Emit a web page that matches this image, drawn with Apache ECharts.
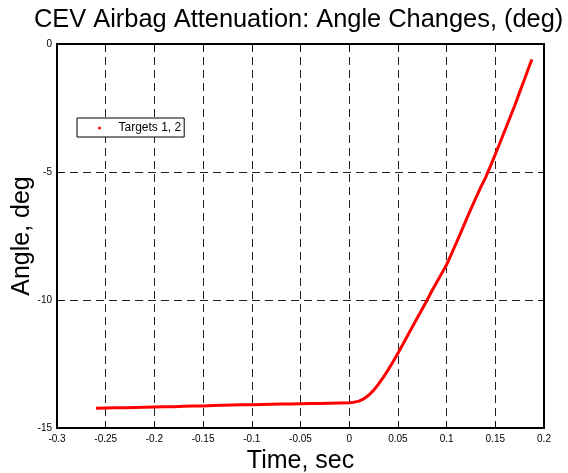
<!DOCTYPE html>
<html>
<head>
<meta charset="utf-8">
<script src="https://cdn.jsdelivr.net/npm/echarts@6/dist/echarts.min.js"></script>
<style>html,body{margin:0;padding:0;background:#fff;}#c{width:568px;height:473px;}</style>
</head>
<body>
<div id="c"></div>
<script>
const titleText = 'CEV Airbag Attenuation: Angle Changes, (deg)';
const xName = 'Time, sec';
const yName = 'Angle, deg';
const seriesName = 'Targets 1, 2';
const xTicks = [-0.3, -0.25, -0.2, -0.15, -0.1, -0.05, 0, 0.05, 0.1, 0.15, 0.2];
const yTicks = [-15, -10, -5, 0];
const timeVals = [
  -0.26, -0.25, -0.24, -0.23, -0.22, -0.21, -0.20, -0.19, -0.18, -0.17,
  -0.16, -0.15, -0.14, -0.13, -0.12, -0.11, -0.10, -0.09, -0.08, -0.07,
  -0.06, -0.05, -0.04, -0.03, -0.02, -0.01, 0,
  0.005, 0.01, 0.015, 0.02, 0.025, 0.03, 0.035, 0.04, 0.045, 0.05,
  0.055, 0.06, 0.065, 0.07, 0.075, 0.08, 0.085, 0.09, 0.095, 0.1,
  0.105, 0.11, 0.115, 0.12, 0.125, 0.13, 0.135, 0.14, 0.145, 0.15,
  0.155, 0.16, 0.165, 0.17, 0.175, 0.18, 0.185, 0.1876
];
const angleVals = [
  -14.23, -14.22, -14.21, -14.21, -14.20, -14.19, -14.18, -14.17, -14.17, -14.15,
  -14.14, -14.14, -14.12, -14.11, -14.10, -14.09, -14.09, -14.08, -14.07, -14.06,
  -14.06, -14.05, -14.04, -14.04, -14.03, -14.02, -14.01,
  -13.99, -13.95, -13.86, -13.72, -13.53, -13.29, -13.02, -12.73, -12.41, -12.08,
  -11.74, -11.39, -11.04, -10.69, -10.35, -10.00, -9.64, -9.30, -8.96, -8.62,
  -8.20, -7.77, -7.33, -6.88, -6.44, -6.02, -5.60, -5.22, -4.77, -4.31,
  -3.84, -3.36, -2.88, -2.40, -1.88, -1.38, -0.86, -0.60
];

const FONT = 'Arial, "Liberation Sans", Helvetica, sans-serif';
const chart = echarts.init(document.getElementById('c'), null, {renderer: 'canvas'});
const data = timeVals.map((t, i) => [t, angleVals[i]]);
const fmtX = v => String(+(+v).toFixed(2));
const dash = {color: '#222', width: 1, type: [8, 5]};
const axLine = {show: true, onZero: false, lineStyle: {color: '#000', width: 2}};
const axTick = {show: true, inside: true, length: 6, lineStyle: {color: '#000'}};

chart.setOption({
  animation: false,
  backgroundColor: '#fff',
  title: {
    text: titleText, left: 34, top: 7, padding: 0,
    textStyle: {fontFamily: FONT, fontSize: 25.4, fontWeight: 'normal', color: '#000'}
  },
  legend: {
    left: 77, top: 118,
    data: [{name: seriesName, icon: 'circle'}],
    itemWidth: 28, itemHeight: 3,
    backgroundColor: '#fff', borderColor: '#000', borderWidth: 1,
    padding: [4, 3, 3, 21],
    textStyle: {fontFamily: FONT, fontSize: 12, color: '#000'}
  },
  grid: {left: 57, right: 24, top: 44, bottom: 45, outerBoundsMode: 'none', containLabel: false,
    show: true, borderColor: '#000', borderWidth: 2, backgroundColor: 'transparent'},
  xAxis: [{
    type: 'value', min: xTicks[0], max: xTicks[xTicks.length - 1], interval: 0.05,
    position: 'bottom',
    name: xName, nameLocation: 'middle', nameGap: 21, nameMoveOverlap: false,
    nameTextStyle: {fontFamily: FONT, fontSize: 25, color: '#000', verticalAlign: 'top'},
    axisLine: axLine, axisTick: axTick,
    axisLabel: {fontFamily: FONT, fontSize: 10, color: '#000', margin: 6, formatter: fmtX, showMinLabel: true, showMaxLabel: true},
    splitLine: {show: true, lineStyle: dash}
  }, {
    type: 'value', min: xTicks[0], max: xTicks[xTicks.length - 1], interval: 0.05,
    position: 'top',
    axisLine: axLine, axisTick: axTick,
    axisLabel: {show: false}, splitLine: {show: false}
  }],
  yAxis: [{
    type: 'value', min: yTicks[0], max: yTicks[yTicks.length - 1], interval: 5,
    position: 'left',
    name: yName, nameLocation: 'middle', nameGap: 22, nameRotate: 90, nameMoveOverlap: false,
    nameTextStyle: {fontFamily: FONT, fontSize: 25, color: '#000'},
    axisLine: axLine, axisTick: axTick,
    axisLabel: {fontFamily: FONT, fontSize: 10, color: '#000', margin: 5},
    splitLine: {show: true, lineStyle: dash}
  }, {
    type: 'value', min: yTicks[0], max: yTicks[yTicks.length - 1], interval: 5,
    position: 'right',
    axisLine: axLine, axisTick: axTick,
    axisLabel: {show: false}, splitLine: {show: false}
  }],
  series: [{
    name: seriesName, type: 'line', data: data,
    xAxisIndex: 0, yAxisIndex: 0,
    showSymbol: false, symbol: 'circle', symbolSize: 3,
    itemStyle: {color: '#ff0000'},
    lineStyle: {color: '#ff0000', width: 3},
    z: 3
  }]
});
</script>
</body>
</html>
